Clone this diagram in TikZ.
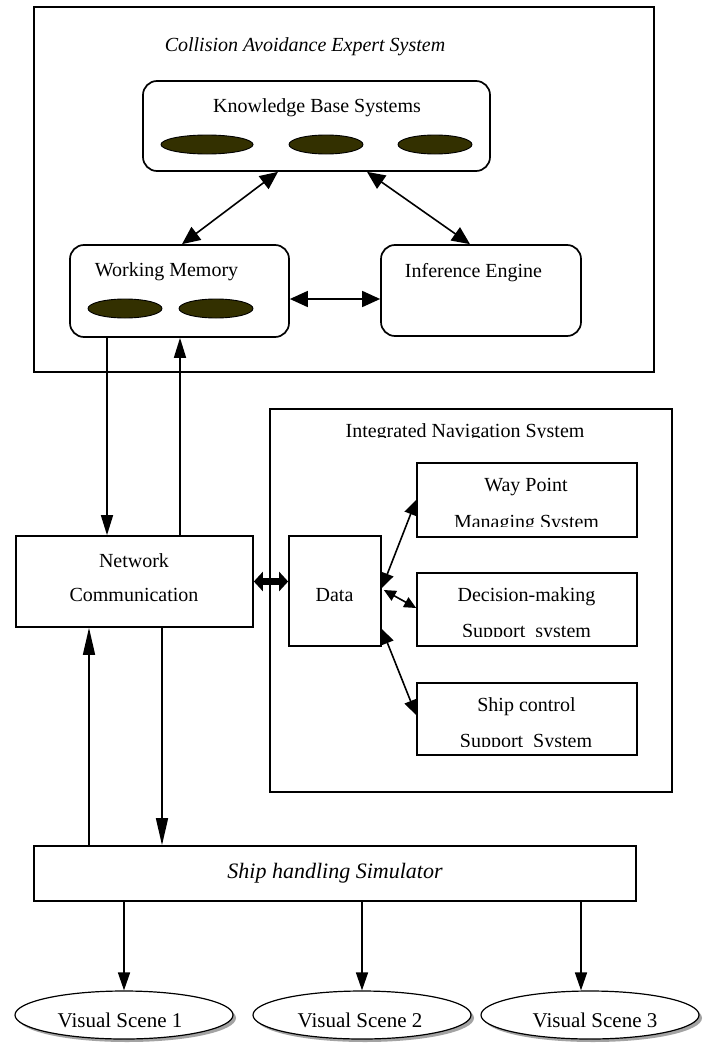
\documentclass[tikz,border=0pt]{standalone}
\usepackage{fontspec}
\setmainfont{Liberation Serif}
\usetikzlibrary{arrows.meta,shapes.geometric,shadows}
\definecolor{kbfill}{RGB}{51,48,0}
\tikzset{
  kt/.tip={Triangle[length=18pt,width=16pt]},
  vt/.tip={Triangle[length=20pt,width=12pt]},
  lt/.tip={Triangle[length=27pt,width=12pt]},
  st/.tip={Triangle[length=18pt,width=12pt]},
  it/.tip={Triangle[length=15pt,width=13pt]},
  dt/.tip={Triangle[length=12pt,width=11pt]},
  ft/.tip={Triangle[length=9pt,width=19pt]},
}
\begin{document}
\begin{tikzpicture}[x=1pt,y=-1pt,
  txt/.style={font=\fontsize{20}{24}\selectfont, inner sep=0pt, anchor=base},
  ital/.style={txt, font=\fontsize{20}{24}\selectfont\itshape},
  simtxt/.style={txt, font=\fontsize{22}{26}\selectfont\itshape},
  scenetxt/.style={txt, font=\fontsize{21}{25}\selectfont},
  frame/.style={draw, line width=2pt, inner sep=0pt},
  rbox/.style={draw, line width=1.7pt, rounded corners=14pt, inner sep=0pt},
  sbox/.style={draw, line width=1.7pt, inner sep=0pt},
  store/.style={ellipse, draw, line width=0.9pt, fill=kbfill, inner sep=0pt, minimum height=19pt},
  scene/.style={ellipse, draw, line width=1.2pt, fill=white, inner sep=0pt,
    minimum width=218pt, minimum height=48pt,
    drop shadow={shadow xshift=3pt, shadow yshift=-3pt, fill=black!60, opacity=0.6}},
  link/.style={line width=1.6pt},
]
\path[fill=white, use as bounding box] (0,0) rectangle (705,1049);

% ---- Collision avoidance expert system ----
\node[frame, minimum width=620pt, minimum height=365pt] (cae) at (344,189.5) {};
\node[ital] (caet) at (305,52) {Collision Avoidance Expert System};

\node[rbox, minimum width=347pt, minimum height=90pt] (kb) at (316.5,126) {};
\node[txt] (kbt) at (317,112) {Knowledge Base Systems};
\node[store, minimum width=92pt] (kb1) at (207,144.5) {};
\node[store, minimum width=74pt] (kb2) at (326,144.5) {};
\node[store, minimum width=74pt] (kb3) at (435,144.5) {};

\node[rbox, minimum width=219pt, minimum height=92pt] (wm) at (179.5,291) {};
\node[txt] (wmt) at (166.5,276) {Working Memory};
\node[store, minimum width=74pt] (wm1) at (125,308.5) {};
\node[store, minimum width=74pt] (wm2) at (216,308.5) {};

\node[rbox, minimum width=200pt, minimum height=91pt] (ie) at (481,290.5) {};
\node[txt] (iet) at (473.5,277) {Inference Engine};

\draw[link, kt-kt] ([xshift=-38.5pt]kb.south) -- ([xshift=2.5pt]wm.north);
\draw[link, kt-kt] ([xshift=50.5pt]kb.south) -- ([xshift=-11pt]ie.north);
\draw[link, kt-kt] ([yshift=-8pt]wm.east) -- ([yshift=-8pt]wm.east -| ie.west);

% ---- Network communication ----
\node[sbox, minimum width=237pt, minimum height=91pt] (net) at (134.5,581.5) {};
\node[txt] (nett1) at (134,567) {Network};
\node[txt] (nett2) at (134,601.5) {Communication};

\draw[link, -vt] ([xshift=-72.5pt]wm.south) -- ([xshift=-72.5pt]wm.south |- net.north);
\draw[link, -vt] ([xshift=0.5pt]wm.south |- net.north) -- ([xshift=0.5pt]wm.south);

% ---- Integrated navigation system ----
\node[frame, minimum width=402pt, minimum height=383pt] (ins) at (471,600.5) {};
\begin{scope}
  \clip (270,400) rectangle (672,437.5);
  \node[txt] (inst) at (465,437) {Integrated Navigation System};
\end{scope}

\node[sbox, minimum width=92pt, minimum height=110pt] (data) at (335,591) {};
\node[txt] (datat) at (334.5,601.5) {Data};

\node[sbox, minimum width=220pt, minimum height=74pt] (wp) at (527,500) {};
\node[txt] (wpt1) at (526,491) {Way Point};
\begin{scope}
  \clip (418,505) rectangle (636,526.5);
  \node[txt] (wpt2) at (526.5,528) {Managing System};
\end{scope}

\node[sbox, minimum width=220pt, minimum height=73pt] (dec) at (527,609.5) {};
\node[txt] (dect1) at (526.5,601) {Decision-making};
\begin{scope}
  \clip (418,612) rectangle (636,636);
  \node[txt] (dect2) at (526.5,637) {Support\ \ system};
\end{scope}

\node[sbox, minimum width=220pt, minimum height=72pt] (ship) at (527,719) {};
\node[txt] (shipt1) at (526.5,711) {Ship control};
\begin{scope}
  \clip (418,722) rectangle (636,746.5);
  \node[txt] (shipt2) at (526,747) {Support\ \ System};
\end{scope}

\draw[line width=7pt, ft-ft] (net.east) -- (net.east -| data.west);
\draw[link, it-it] ([yshift=3pt]data.east) -- (wp.west);
\draw[link, dt-dt] ([xshift=2pt,yshift=1pt]data.east) -- ([yshift=1.5pt]dec.west);
\draw[link, it-it] ([yshift=-38pt]data.east) -- ([yshift=4pt]ship.west);

% ---- Ship handling simulator ----
\node[sbox, minimum width=602pt, minimum height=55pt] (sim) at (335,873.5) {};
\node[simtxt] (simt) at (335,878) {Ship handling Simulator};

\draw[link, -lt] ([xshift=-45.5pt]net.south |- sim.north) -- ([xshift=-45.5pt]net.south);
\draw[link, -lt] ([xshift=27.5pt]net.south) -- ([xshift=27.5pt]net.south |- sim.north);

% ---- Visual scenes ----
\node[scene] (vs1) at (124,1015) {};
\node[scene] (vs2) at (362,1015) {};
\node[scene] (vs3) at (590,1015) {};
\node[scenetxt] (vst1) at (120,1027) {Visual Scene 1};
\node[scenetxt] (vst2) at (360,1027) {Visual Scene 2};
\node[scenetxt] (vst3) at (595,1027) {Visual Scene 3};

\draw[link, -st] (vs1.north |- sim.south) -- (vs1.north);
\draw[link, -st] (vs2.north |- sim.south) -- (vs2.north);
\draw[link, -st] ([xshift=-9pt]vs3.north |- sim.south) -- ([xshift=-9pt]vs3.north);
\end{tikzpicture}
\end{document}
